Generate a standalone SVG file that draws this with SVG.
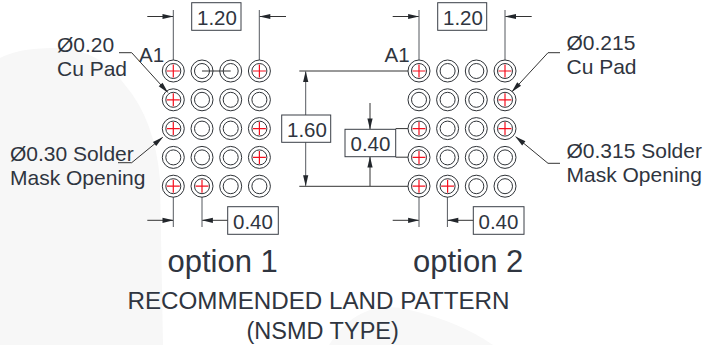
<svg xmlns="http://www.w3.org/2000/svg" xmlns:xlink="http://www.w3.org/1999/xlink" width="714" height="345" viewBox="0 0 714 345">
<style>
.t{font-family:"Liberation Sans",Arial,sans-serif;fill:#2f3540}
.s20{font-size:20.5px}.s21{font-size:21px}.s31{font-size:31px}.s23{font-size:23.5px}
.box{fill:none;stroke:#3a3f47;stroke-width:1}
.ln{fill:none;stroke:#333;stroke-width:1}
.ext{fill:none;stroke:#55595f;stroke-width:1}
.o{fill:none;stroke:#2f3338;stroke-width:1}
.x{fill:none;stroke:#f5101e;stroke-width:1.2}
</style>
<defs>
<marker id="ah" markerUnits="userSpaceOnUse" viewBox="0 0 11 7" markerWidth="11" markerHeight="7" refX="10.5" refY="3.5" orient="auto" overflow="visible"><path d="M0 0.9L11 3.5L0 6.1Z" fill="#22262b"/></marker>
<g id="pad"><circle r="11" class="o"/><circle r="7.5" class="o"/></g>
<g id="padx"><use xlink:href="#pad" href="#pad"/><path d="M-6.5 0H6.5M0-6.5V6.5" class="x"/></g>
</defs>
<rect width="714" height="345" fill="#fff"/>
<path d="M0 58Q20 47 60 48Q100 50 125 85Q155 120 160 180L163 345H0Z" fill="#f7f7f7"/>
<path d="M329 345Q345 320 365 312Q385 303 410 310Q460 322 493 345Z" fill="#f8f8f8"/>
<g id="connectors">
<path class="ext" d="M173.3 10V60M259.3 10V60M419 10V60M505 10V60M173.3 197V227M202 197V227M419 197V227M447.4 197V227"/>
<path class="ln" marker-end="url(#ah)" d="M147.3 16.5H173"/>
<path class="ln" marker-end="url(#ah)" d="M286 16.5H259.8"/>
<path class="ln" marker-end="url(#ah)" d="M392.7 16.5H418.6"/>
<path class="ln" marker-end="url(#ah)" d="M531.7 16.5H505.5"/>
<path class="ln" marker-end="url(#ah)" d="M147.3 220.3H173"/>
<path class="ln" marker-end="url(#ah)" d="M227.7 220.3H202.4"/>
<path class="ln" marker-end="url(#ah)" d="M392.7 220.3H418.6"/>
<path class="ln" marker-end="url(#ah)" d="M473.3 220.3H447.8"/>
<path class="ln" d="M299.3 71H408M299.3 186.3H408M395.7 128.6H408M395.7 157.2H408M202 71H230.7"/>
<path class="ext" marker-end="url(#ah)" d="M305.7 115V71.5"/>
<path class="ext" marker-end="url(#ah)" d="M305.7 142.3V185.8"/>
<path class="ln" marker-end="url(#ah)" d="M370 103V129"/>
<path class="ln" marker-end="url(#ah)" d="M370 186V157"/>
<path class="ln" marker-end="url(#ah)" d="M119 52.7H131.7L167.7 92.3"/>
<path class="ln" marker-end="url(#ah)" d="M118 162.7H131.7L162.7 137.3"/>
<path class="ln" marker-end="url(#ah)" d="M560 52.7H548L512 91.7"/>
<path class="ln" marker-end="url(#ah)" d="M560 163.3H548L515.7 136.7"/>
</g>
<g id="pads-option-1">
<use href="#padx" x="173.3" y="71"/><use href="#pad" x="202" y="71"/><use href="#pad" x="230.7" y="71"/><use href="#padx" x="259.4" y="71"/>
<use href="#padx" x="173.3" y="99.8"/><use href="#pad" x="202" y="99.8"/><use href="#pad" x="230.7" y="99.8"/><use href="#pad" x="259.4" y="99.8"/>
<use href="#padx" x="173.3" y="128.6"/><use href="#pad" x="202" y="128.6"/><use href="#pad" x="230.7" y="128.6"/><use href="#padx" x="259.4" y="128.6"/>
<use href="#pad" x="173.3" y="157.4"/><use href="#pad" x="202" y="157.4"/><use href="#pad" x="230.7" y="157.4"/><use href="#padx" x="259.4" y="157.4"/>
<use href="#padx" x="173.3" y="186.2"/><use href="#padx" x="202" y="186.2"/><use href="#pad" x="230.7" y="186.2"/><use href="#pad" x="259.4" y="186.2"/>
</g>
<g id="pads-option-2">
<use href="#padx" x="419" y="71"/><use href="#pad" x="447.6" y="71"/><use href="#pad" x="476.3" y="71"/><use href="#padx" x="505" y="71"/>
<use href="#pad" x="419" y="99.8"/><use href="#pad" x="447.6" y="99.8"/><use href="#pad" x="476.3" y="99.8"/><use href="#padx" x="505" y="99.8"/>
<use href="#padx" x="419" y="128.6"/><use href="#pad" x="447.6" y="128.6"/><use href="#pad" x="476.3" y="128.6"/><use href="#padx" x="505" y="128.6"/>
<use href="#padx" x="419" y="157.4"/><use href="#pad" x="447.6" y="157.4"/><use href="#pad" x="476.3" y="157.4"/><use href="#pad" x="505" y="157.4"/>
<use href="#padx" x="419" y="186.2"/><use href="#padx" x="447.6" y="186.2"/><use href="#pad" x="476.3" y="186.2"/><use href="#pad" x="505" y="186.2"/>
</g>
<g id="dim-120-left"><rect class="box" x="191.7" y="2.7" width="49.3" height="27.6"/><text class="t s20" x="197" y="24.5">1.20</text></g>
<g id="dim-120-right"><rect class="box" x="437.7" y="2.7" width="49" height="27.6"/><text class="t s20" x="443" y="24.5">1.20</text></g>
<g id="dim-160"><rect class="box" x="281.7" y="115" width="49" height="27.3"/><text class="t s20" x="287" y="136.5">1.60</text></g>
<g id="dim-040-mid"><rect class="box" x="345" y="129.3" width="50.7" height="27.4"/><text class="t s20" x="350.5" y="151">0.40</text></g>
<g id="dim-040-left"><rect class="box" x="227.7" y="206.7" width="50.6" height="27.6"/><text class="t s20" x="233" y="228.5">0.40</text></g>
<g id="dim-040-right"><rect class="box" x="473.3" y="206.7" width="50.7" height="27.6"/><text class="t s20" x="478.5" y="228.5">0.40</text></g>
<g id="labels">
<text class="t s21" x="57" y="52">Ø0.20</text>
<text class="t s21" x="57" y="76">Cu Pad</text>
<text class="t s20" x="139" y="62">A1</text>
<text class="t s20" x="384.5" y="62">A1</text>
<text class="t s21" x="10" y="161">Ø0.30 Solder</text>
<text class="t s21" x="10" y="185">Mask Opening</text>
<text class="t s21" x="566.5" y="50">Ø0.215</text>
<text class="t s21" x="566.5" y="74">Cu Pad</text>
<text class="t s21" x="566.5" y="158">Ø0.315 Solder</text>
<text class="t s21" x="566.5" y="182">Mask Opening</text>
<text class="t s31" x="167.5" y="272">option 1</text>
<text class="t s31" x="413" y="272">option 2</text>
<text class="t s23" x="127.5" y="309" textLength="382" lengthAdjust="spacingAndGlyphs">RECOMMENDED LAND PATTERN</text>
<text class="t s23" x="246.5" y="339">(NSMD TYPE)</text>
</g>
</svg>
